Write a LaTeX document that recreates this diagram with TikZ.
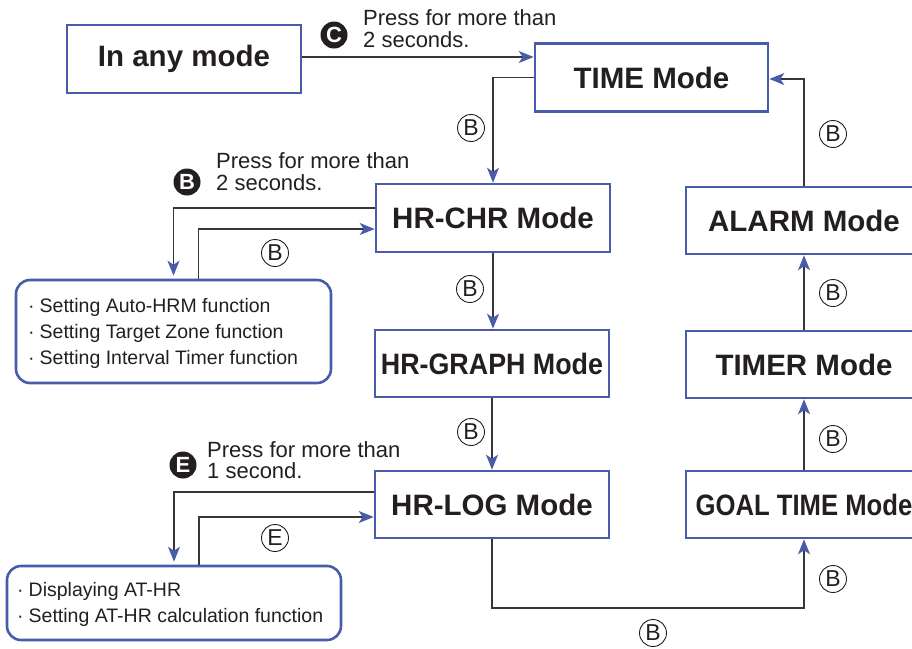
\documentclass[tikz,border=0pt]{standalone}
\usepackage{fontspec}
\setmainfont{Liberation Sans}
\usetikzlibrary{arrows.meta}
\definecolor{mblue}{RGB}{72,92,170}
\definecolor{mline}{RGB}{55,55,55}
\definecolor{mtext}{RGB}{35,31,32}
\begin{document}
\begin{tikzpicture}[x=1pt,y=-1pt,
 modebox/.style={draw=mblue, line width=2.6pt, fill=white, minimum width=234pt, minimum height=68pt, inner sep=0pt, text=mtext, font=\fontsize{29.5}{34}\selectfont\bfseries},
 listbox/.style={draw=mblue, line width=2.6pt, rounded corners=14pt, inner sep=0pt},
 conn/.style={draw=mline, line width=1.3pt},
 arr/.style={conn, -{Stealth[length=15pt,width=12pt,inset=4pt,color=mblue]}},
 keyb/.style={circle, draw=mtext, line width=0.9pt, minimum size=27pt, inner sep=0pt, font=\fontsize{23}{23}\selectfont, text=mtext},
 keyk/.style={circle, fill=mtext, minimum size=27pt, inner sep=0pt, text=white, font=\fontsize{22}{22}\selectfont\bfseries},
 note/.style={anchor=base west, inner sep=0pt, text=mtext, font=\fontsize{22}{22}\selectfont},
 item/.style={anchor=base west, inner sep=0pt, text=mtext, font=\fontsize{19.5}{20}\selectfont},
]
\useasboundingbox (0,0) rectangle (912,648);

% mode boxes
\node[modebox] (any) at (184,59) {In any mode};
\node[modebox, minimum width=233pt] (time) at (651.5,77.5) {TIME Mode};
\node[modebox] (hrchr) at (493,218) {HR-CHR Mode};
\node[modebox, minimum height=67pt] (hrgraph) at (492,363.5) {\scalebox{0.91}[1]{HR-GRAPH Mode}};
\node[modebox, minimum height=67pt] (hrlog) at (492,504.5) {HR-LOG Mode};
\node[modebox, minimum width=236pt, minimum height=67pt] (alarm) at (804,220.5) {ALARM Mode};
\node[modebox, minimum width=236pt, minimum height=67pt] (timer) at (804,364.5) {TIMER Mode};
\node[modebox, minimum width=236pt, minimum height=67pt] (goal) at (804,504.5) {\scalebox{0.87}[1]{GOAL TIME Mode}};

% list boxes
\node[listbox, minimum width=315pt, minimum height=103pt] (set1) at (173.5,331.5) {};
\node[item] (s1a) at (28,312) {·\hspace{5pt}Setting Auto-HRM function};
\node[item] (s1b) at (28,338) {·\hspace{5pt}Setting Target Zone function};
\node[item] (s1c) at (28,364) {·\hspace{5pt}Setting Interval Timer function};

\node[listbox, minimum width=334pt, minimum height=74pt] (set2) at (174,603) {};
\node[item] (s2a) at (17,596) {·\hspace{5pt}Displaying AT-HR};
\node[item] (s2b) at (17,622) {·\hspace{5pt}Setting AT-HR calculation function};

% helper coordinates
\coordinate (bot) at (0,608);

% connectors
\draw[arr] ([yshift=2pt]any.east) -- ([yshift=2pt]any.east -| time.west);
\draw[arr] (time.west) -| (hrchr.north);
\draw[arr] (hrchr.south) -- (hrchr.south |- hrgraph.north);
\draw[arr] (hrgraph.south) -- (hrgraph.south |- hrlog.north);
\draw[arr] (hrlog.south) -- (hrlog.south |- bot) -- (bot -| goal.south) -- (goal.south);
\draw[arr] (goal.north) -- (timer.south);
\draw[arr] (timer.north) -- (alarm.south);
\draw[arr] (alarm.north) |- ([yshift=-1.5pt]time.east);

\draw[arr, shorten >=3pt] ([yshift=10pt]hrchr.west) -| (set1.north);
\draw[arr] ([xshift=25pt]set1.north) |- ([yshift=-11pt]hrchr.west);
\draw[arr, shorten >=3pt] ([yshift=12.5pt]hrlog.west) -| (set2.north);
\draw[arr] ([xshift=25pt]set2.north) |- ([yshift=-12.5pt]hrlog.west);

% key labels
\node[keyk] (kc) at (334,35) {C};
\node[note] (nc1) at (363,25) {Press for more than};
\node[note] (nc2) at (363,47) {2 seconds.};

\node[keyk] (kb) at (187,182) {B};
\node[note] (nb1) at (216,168) {Press for more than};
\node[note] (nb2) at (216,190) {2 seconds.};

\node[keyk] (ke) at (183,465) {E};
\node[note] (ne1) at (207,457) {Press for more than};
\node[note] (ne2) at (207,478) {1 second.};

\node[keyb] (b1) at (471,128) {B};
\node[keyb] (b2) at (470,289) {B};
\node[keyb] (b3) at (471,432) {B};
\node[keyb] (b4) at (833,134) {B};
\node[keyb] (b5) at (833,293) {B};
\node[keyb] (b6) at (833,439) {B};
\node[keyb] (b7) at (833,579) {B};
\node[keyb] (b8) at (653,633) {B};
\node[keyb] (b9) at (275,253) {B};
\node[keyb] (e1) at (275,538) {E};
\end{tikzpicture}
\end{document}
